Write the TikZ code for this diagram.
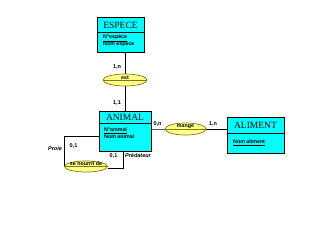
\documentclass[tikz,border=0pt]{standalone}
\usepackage{fontspec}
\setmainfont{Liberation Serif}
\setsansfont{Liberation Sans}
\usetikzlibrary{shapes.geometric,backgrounds}
\definecolor{boxfill}{RGB}{0,255,255}
\definecolor{assocfill}{RGB}{255,255,140}
\definecolor{assocline}{RGB}{128,128,0}
\begin{document}
\begin{tikzpicture}[x=1pt,y=-1pt,
  entity/.style={draw=black, line width=0.8pt, fill=boxfill, rectangle, inner sep=0pt},
  assoc/.style={draw=assocline, line width=0.7pt, fill=assocfill, ellipse, inner sep=0pt},
  etitle/.style={font=\fontsize{9.5}{10}\selectfont, inner sep=0pt},
  field/.style={font=\sffamily\bfseries\fontsize{5.3}{6}\selectfont, inner sep=0pt, anchor=west},
  aname/.style={font=\sffamily\bfseries\fontsize{5.3}{6}\selectfont, inner sep=0pt},
  card/.style={font=\sffamily\bfseries\fontsize{5.5}{6}\selectfont, inner sep=0pt},
  role/.style={font=\sffamily\bfseries\itshape\fontsize{5.5}{6}\selectfont, inner sep=0pt},
  link/.style={draw=black, line width=0.8pt},
  sep/.style={draw=black, line width=0.8pt}]
\useasboundingbox (0,0) rectangle (320,240);

% entities
\node[entity, minimum width=47pt, minimum height=35pt] (espece) at (120.5,34.5) {};
\draw[sep] ([yshift=-16pt]espece.north west) -- ([yshift=-16pt]espece.north east);
\node[etitle] (especeT) at (120.5,25) {ESPECE};
\node[field] (especeK) at (103,38.5) {\underline{N°espèce}};
\node[field] (especeN) at (103,44.5) {Nom espèce};

\node[entity, minimum width=52pt, minimum height=40pt] (animal) at (125,131) {};
\draw[sep] ([yshift=-13pt]animal.north west) -- ([yshift=-13pt]animal.north east);
\node[etitle] (animalT) at (125,117.5) {ANIMAL};
\node[field] (animalK) at (104,130.5) {\underline{N°animal}};
\node[field] (animalN) at (104,137) {Nom animal};

\node[entity, minimum width=57pt, minimum height=36pt] (aliment) at (255.5,135) {};
\draw[sep] ([yshift=-17pt]aliment.north west) -- ([yshift=-17pt]aliment.north east);
\node[etitle] (alimentT) at (255.5,125.5) {ALIMENT};
\node[field] (alimentN) at (233,142.5) {\underline{Nom aliment}};

% associations
\node[assoc, minimum width=44pt, minimum height=12pt] (est) at (125,80) {};
\draw[assocline, line width=0.6pt] (est.west) -- (est.east);
\node[aname] (estT) at ([yshift=2.6pt]est.center) {est};

\node[assoc, minimum width=41pt, minimum height=12pt] (mange) at (185.5,129) {};
\draw[assocline, line width=0.6pt] (mange.west) -- (mange.east);
\node[aname] (mangeT) at ([yshift=2.6pt]mange.center) {mange};

\node[assoc, minimum width=43pt, minimum height=11pt] (nourrit) at (86,166.5) {};
\draw[assocline, line width=0.6pt] (nourrit.west) -- (nourrit.east);
\node[aname] (nourritT) at ([yshift=2.4pt]nourrit.center) {se nourrit de};

% links, kept behind the shapes
\begin{pgfonlayer}{background}
\fill[white] (0,0) rectangle (320,240);
\draw[link] ([xshift=4.5pt]espece.south) -- (animal.north);
\draw[link] (animal.east |- mange.center) -- (mange.center) -- (aliment.west |- mange.center);
\draw[link] ([yshift=-5pt]animal.west) -| (nourrit.west);
\draw[link] ([xshift=-2pt]animal.south) |- ([yshift=-1.5pt]nourrit.east);
\end{pgfonlayer}

% cardinalities and roles
\node[card] (c1) at (117,67) {1,n};
\node[card] (c2) at (117,103) {1,1};
\node[card] (c3) at (157.5,124) {0,n};
\node[card] (c4) at (213,124) {1,n};
\node[card] (c5) at (73.5,146) {0,1};
\node[card] (c6) at (113.5,156) {0,1};
\node[role] (r1) at (55,149) {Proie};
\node[role] (r2) at (138,156) {Prédateur};
\end{tikzpicture}
\end{document}
